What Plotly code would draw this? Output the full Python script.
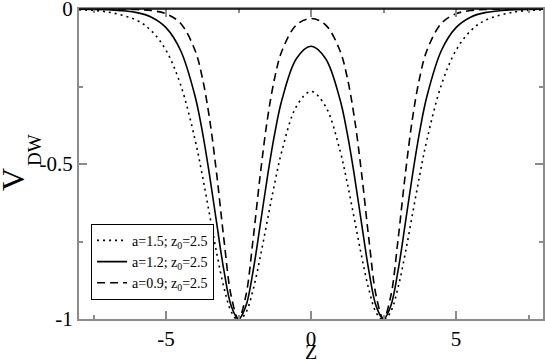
import plotly.graph_objects as go

# z positions of the sampled points
z = [-8, -7, -6, -5.5, -5, -4.5, -4, -3.75, -3.5, -3.25, -3, -2.75, -2.5, -2.25, -2, -1.75,
     -1.5, -1.25, -1, -0.5, 0, 0.5, 1, 1.25, 1.5, 1.75, 2, 2.25, 2.5, 2.75, 3, 3.25, 3.5,
     3.75, 4, 4.5, 5, 5.5, 6, 7, 8]

# a=1.5 (dotted)
v_a15 = [-0.0026, -0.0099, -0.0369, -0.0708, -0.1333, -0.2434, -0.4207, -0.5355, -0.6617,
         -0.7883, -0.8992, -0.9764, -1.0051, -0.9798, -0.9065, -0.8002, -0.6795, -0.5611,
         -0.4569, -0.3137, -0.266, -0.3137, -0.4569, -0.5611, -0.6795, -0.8002, -0.9065,
         -0.9798, -1.0051, -0.9764, -0.8992, -0.7883, -0.6617, -0.5355, -0.4207, -0.2434,
         -0.1333, -0.0708, -0.0369, -0.0099, -0.0026]

# a=1.2 (solid)
v_a12 = [-0.0004, -0.0022, -0.0117, -0.0266, -0.0602, -0.1331, -0.2806, -0.3939, -0.5347,
         -0.6927, -0.8451, -0.9584, -1.001, -0.9593, -0.8469, -0.6958, -0.5396, -0.4015,
         -0.2922, -0.1597, -0.1203, -0.1597, -0.2922, -0.4015, -0.5396, -0.6958, -0.8469,
         -0.9593, -1.001, -0.9584, -0.8451, -0.6927, -0.5347, -0.3939, -0.2806, -0.1331,
         -0.0602, -0.0266, -0.0117, -0.0022, -0.0004]

# a=0.9 (dashed)
v_a09 = [0.0, -0.0002, -0.0017, -0.0051, -0.0154, -0.0459, -0.1331, -0.2204, -0.3528,
         -0.5345, -0.7453, -0.9266, -1.0, -0.9267, -0.7455, -0.5348, -0.3533, -0.2214,
         -0.1348, -0.051, -0.0307, -0.051, -0.1348, -0.2214, -0.3533, -0.5348, -0.7455,
         -0.9267, -1.0, -0.9266, -0.7453, -0.5345, -0.3528, -0.2204, -0.1331, -0.0459,
         -0.0154, -0.0051, -0.0017, -0.0002, 0.0]

names = ["a=1.5; z<sub>0</sub>=2.5", "a=1.2; z<sub>0</sub>=2.5", "a=0.9; z<sub>0</sub>=2.5"]
dashes = ["2px,4px", "solid", "8px,5px"]

fig = go.Figure()
for vals, name, dash in zip([v_a15, v_a12, v_a09], names, dashes):
    fig.add_trace(go.Scatter(
        x=z, y=vals, mode="lines", name=name,
        line=dict(color="black", width=1.6, dash=dash, shape="spline", smoothing=1.0),
    ))

axis_common = dict(
    showline=True, linecolor="#8c8c8c", linewidth=2, mirror="allticks",
    ticks="inside", ticklen=8, tickcolor="#8c8c8c", tickwidth=1.5,
    showgrid=False, zeroline=False, automargin=False, ticklabeloverflow="allow",
    tickfont=dict(family="Liberation Serif", size=21, color="black"),
)

fig.update_xaxes(
    range=[-8, 8], tickvals=[-5, 0, 5], ticktext=["-5", "0", "5"],
    minor=dict(tickvals=[-7.5, -2.5, 2.5, 7.5], ticks="inside", ticklen=4,
               tickcolor="#8c8c8c", tickwidth=1.5),
    **axis_common,
)
fig.update_yaxes(
    range=[-1, 0], tickvals=[-1, -0.5, 0], ticktext=["-1", "-0.5", "0"],
    minor=dict(tickvals=[-0.75, -0.25], ticks="inside", ticklen=4,
               tickcolor="#8c8c8c", tickwidth=1.5),
    **axis_common,
)

# black top frame line
fig.add_shape(type="line", xref="paper", yref="paper", x0=0, x1=1, y0=1, y1=1,
              line=dict(color="black", width=1.5))

title_font = dict(family="Liberation Serif", color="black")

fig.add_annotation(
    text="Z", xref="paper", yref="paper", x=0.5, y=0, yshift=-33,
    xanchor="center", yanchor="middle", showarrow=False,
    font=dict(size=20, **title_font),
)

# y title: "V" with a lowered "DW" subscript, drawn as two rotated pieces
fig.add_annotation(
    text="V", xref="paper", yref="paper", x=0, y=0.5, xshift=-66, yshift=-16,
    xanchor="center", yanchor="middle",
    textangle=-90, showarrow=False, font=dict(size=32, **title_font),
)
fig.add_annotation(
    text="DW", xref="paper", yref="paper", x=0, y=0.5, xshift=-45, yshift=14,
    xanchor="center", yanchor="middle",
    textangle=-90, showarrow=False, font=dict(size=19, **title_font),
)

fig.update_layout(
    width=545, height=361,
    margin=dict(l=79, r=2, t=9, b=42),
    paper_bgcolor="white", plot_bgcolor="white",
    font=dict(family="Liberation Serif", color="black"),
    showlegend=True,
    legend=dict(
        x=0.026, y=0.062, xanchor="left", yanchor="bottom",
        bgcolor="white", bordercolor="black", borderwidth=1,
        font=dict(family="Liberation Serif", size=14, color="black"),
        tracegroupgap=0, itemwidth=30,
    ),
)

fig.write_html("out.html", config={"displayModeBar": False},
               post_script="document.body.style.margin='0px';")
